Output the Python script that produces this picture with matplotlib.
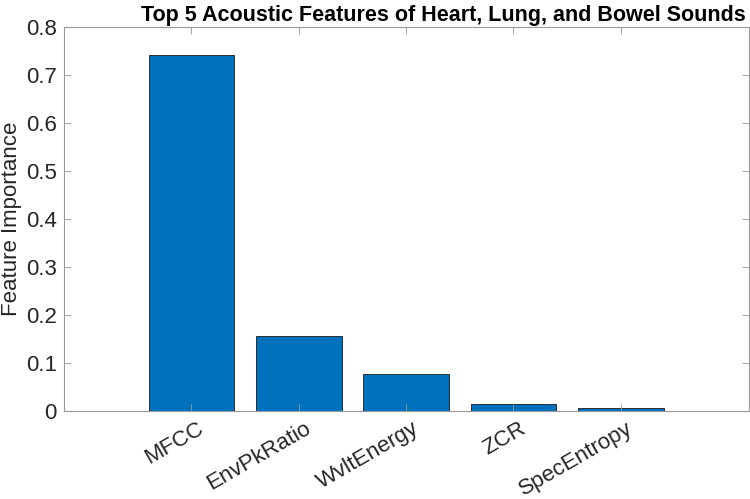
import matplotlib.pyplot as plt
from matplotlib.transforms import ScaledTranslation

plt.rcParams['font.family'] = ['Liberation Sans', 'DejaVu Sans']

# Feature names and their importance values
features = ['MFCC', 'EnvPkRatio', 'WvltEnergy', 'ZCR', 'SpecEntropy']
importance = [0.742, 0.156, 0.078, 0.014, 0.006]
positions = [1, 2, 3, 4, 5]

fig = plt.figure(figsize=(7.5, 4.99), dpi=100)
ax = fig.add_axes([0.085, 0.176, 0.913, 0.77])

ax.bar(positions, importance, width=0.8, color='#0072BD', edgecolor='#1a1a1a', linewidth=0.6)

ax.set_xlim(-0.19, 6.19)
ax.set_ylim(0, 0.8)
ax.set_yticks([0, 0.1, 0.2, 0.3, 0.4, 0.5, 0.6, 0.7, 0.8])
ax.set_yticklabels(['0', '0.1', '0.2', '0.3', '0.4', '0.5', '0.6', '0.7', '0.8'])
ax.set_xticks(positions)

ax.tick_params(direction='in', top=True, right=True, labelsize=16, colors='#262626',
               length=5, width=0.6, pad=5)
ax.tick_params(axis='both', color='#999999')
for s in ax.spines.values():
    s.set_color('#999999')
    s.set_linewidth(0.8)

ax.set_xticklabels(features, rotation=30, ha='right', rotation_mode='anchor', fontsize=16)
# small nudge so the label ends sit just right of the tick, as in MATLAB
offset = ScaledTranslation(4 / 72, 0, fig.dpi_scale_trans)
for lbl in ax.get_xticklabels():
    lbl.set_transform(lbl.get_transform() + offset)

ax.set_ylabel('Feature Importance', fontsize=16, color='#262626', labelpad=3)
ax.set_title('Top 5 Acoustic Features of Heart, Lung, and Bowel Sounds',
             fontsize=15.5, fontweight='bold', pad=4, x=0.555)

fig.savefig('out.png', dpi=100)
